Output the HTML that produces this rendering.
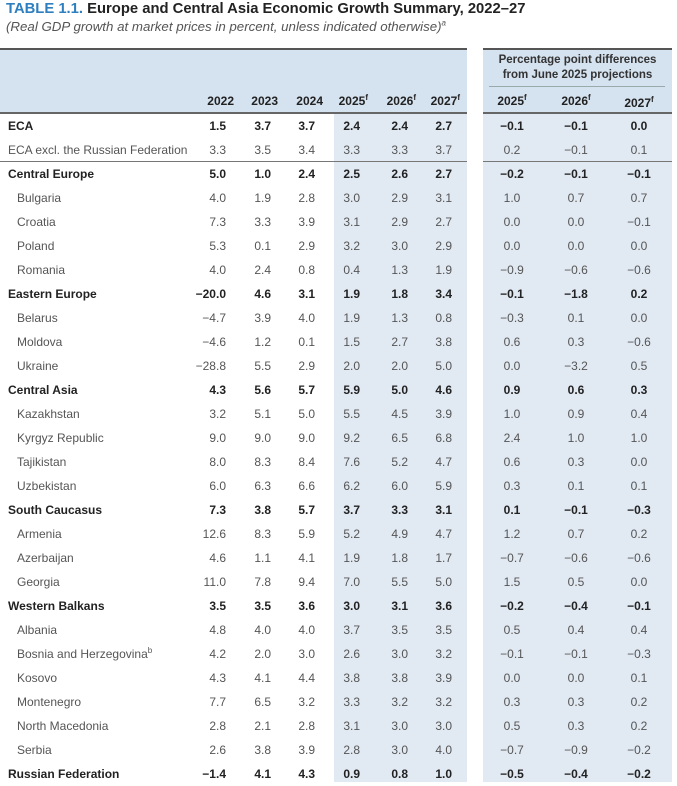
<!DOCTYPE html>
<html><head><meta charset="utf-8"><style>
body{margin:0;width:677px;height:782px;overflow:hidden;background:#fff;font-family:"Liberation Sans",sans-serif;position:relative}
.a{position:absolute}
.r{position:absolute;height:24px;left:0;width:677px;font-size:12px;color:#555;line-height:24px}
.r span{position:absolute;top:0}
.b{color:#222;font-weight:bold}
.n{left:8px}
.i{left:17px}
.v{text-align:right;width:50px}
.c{text-align:center;width:50px}
sup{font-size:8px;line-height:0}
</style></head><body>
<div class="a" style="left:6px;top:1px;font-size:14.8px;font-weight:bold;color:#222;white-space:nowrap"><span style="color:#2e7fbf">TABLE 1.1.</span> Europe and Central Asia Economic Growth Summary, 2022–27</div>
<div class="a" style="left:6px;top:19px;font-size:13.3px;font-style:italic;color:#555;white-space:nowrap">(Real GDP growth at market prices in percent, unless indicated otherwise)<sup>a</sup></div>
<div class="a" style="left:0;top:48px;width:467px;height:65px;background:#d5e2ef;border-top:2px solid #555;box-sizing:border-box"></div>
<div class="a" style="left:334px;top:113px;width:133px;height:669px;background:#e1e9f3"></div>
<div class="a" style="left:483px;top:48px;width:189px;height:734px;background:#e1e9f3;border-top:2px solid #555;box-sizing:border-box"></div>
<div class="a" style="left:483px;top:48px;width:189px;height:65px;background:#d5e2ef;border-top:2px solid #555;box-sizing:border-box"></div>
<div class="a" style="left:0;top:112px;width:467px;height:1.5px;background:#666"></div>
<div class="a" style="left:483px;top:112px;width:189px;height:1.5px;background:#666"></div>
<div class="a" style="left:489px;top:86px;width:176px;height:1px;background:#9aa"></div>
<div class="a" style="left:0;top:161px;width:467px;height:1px;background:#777"></div>
<div class="a" style="left:483px;top:161px;width:189px;height:1px;background:#777"></div>
<div class="a" style="left:483px;top:53px;width:189px;text-align:center;font-size:11.5px;font-weight:bold;color:#333;line-height:15px">Percentage point differences<br>from June 2025 projections</div>
<div class="r b" style="top:89px"><span class="v" style="left:184px">2022</span><span class="v" style="left:228px">2023</span><span class="v" style="left:273px">2024</span><span class="v" style="left:318px">2025<sup>f</sup></span><span class="v" style="left:366px">2026<sup>f</sup></span><span class="v" style="left:410px">2027<sup>f</sup></span><span class="c" style="left:487px">2025<sup>f</sup></span><span class="c" style="left:551px">2026<sup>f</sup></span><span class="c" style="left:614px;top:2px">2027<sup>f</sup></span></div>
<div id="rows"></div>
<script>
var d=[["ECA",1,"1.5 3.7 3.7 2.4 2.4 2.7 −0.1 −0.1 0.0"],["ECA excl. the Russian Federation",0,"3.3 3.5 3.4 3.3 3.3 3.7 0.2 −0.1 0.1",1],["Central Europe",1,"5.0 1.0 2.4 2.5 2.6 2.7 −0.2 −0.1 −0.1"],["Bulgaria",0,"4.0 1.9 2.8 3.0 2.9 3.1 1.0 0.7 0.7"],["Croatia",0,"7.3 3.3 3.9 3.1 2.9 2.7 0.0 0.0 −0.1"],["Poland",0,"5.3 0.1 2.9 3.2 3.0 2.9 0.0 0.0 0.0"],["Romania",0,"4.0 2.4 0.8 0.4 1.3 1.9 −0.9 −0.6 −0.6"],["Eastern Europe",1,"−20.0 4.6 3.1 1.9 1.8 3.4 −0.1 −1.8 0.2"],["Belarus",0,"−4.7 3.9 4.0 1.9 1.3 0.8 −0.3 0.1 0.0"],["Moldova",0,"−4.6 1.2 0.1 1.5 2.7 3.8 0.6 0.3 −0.6"],["Ukraine",0,"−28.8 5.5 2.9 2.0 2.0 5.0 0.0 −3.2 0.5"],["Central Asia",1,"4.3 5.6 5.7 5.9 5.0 4.6 0.9 0.6 0.3"],["Kazakhstan",0,"3.2 5.1 5.0 5.5 4.5 3.9 1.0 0.9 0.4"],["Kyrgyz Republic",0,"9.0 9.0 9.0 9.2 6.5 6.8 2.4 1.0 1.0"],["Tajikistan",0,"8.0 8.3 8.4 7.6 5.2 4.7 0.6 0.3 0.0"],["Uzbekistan",0,"6.0 6.3 6.6 6.2 6.0 5.9 0.3 0.1 0.1"],["South Caucasus",1,"7.3 3.8 5.7 3.7 3.3 3.1 0.1 −0.1 −0.3"],["Armenia",0,"12.6 8.3 5.9 5.2 4.9 4.7 1.2 0.7 0.2"],["Azerbaijan",0,"4.6 1.1 4.1 1.9 1.8 1.7 −0.7 −0.6 −0.6"],["Georgia",0,"11.0 7.8 9.4 7.0 5.5 5.0 1.5 0.5 0.0"],["Western Balkans",1,"3.5 3.5 3.6 3.0 3.1 3.6 −0.2 −0.4 −0.1"],["Albania",0,"4.8 4.0 4.0 3.7 3.5 3.5 0.5 0.4 0.4"],["Bosnia and Herzegovina<sup>b</sup>",0,"4.2 2.0 3.0 2.6 3.0 3.2 −0.1 −0.1 −0.3"],["Kosovo",0,"4.3 4.1 4.4 3.8 3.8 3.9 0.0 0.0 0.1"],["Montenegro",0,"7.7 6.5 3.2 3.3 3.2 3.2 0.3 0.3 0.2"],["North Macedonia",0,"2.8 2.1 2.8 3.1 3.0 3.0 0.5 0.3 0.2"],["Serbia",0,"2.6 3.8 3.9 2.8 3.0 4.0 −0.7 −0.9 −0.2"],["Russian Federation",1,"−1.4 4.1 4.3 0.9 0.8 1.0 −0.5 −0.4 −0.2"]];
var L=[176,221,265,310,358,402],C=[487,551,614],h="";
d.forEach(function(r,k){var v=r[2].split(" ");h+='<div class="r'+(r[1]?' b':'')+'" style="top:'+(114+k*24)+'px"><span class="'+(r[1]||r[3]?'n':'i')+'">'+r[0]+'</span>';
for(var j=0;j<6;j++)h+='<span class="v" style="left:'+L[j]+'px">'+v[j]+'</span>';
for(j=0;j<3;j++)h+='<span class="c" style="left:'+C[j]+'px">'+v[6+j]+'</span>';h+='</div>';});
document.getElementById("rows").innerHTML=h;
</script>
</body></html>
